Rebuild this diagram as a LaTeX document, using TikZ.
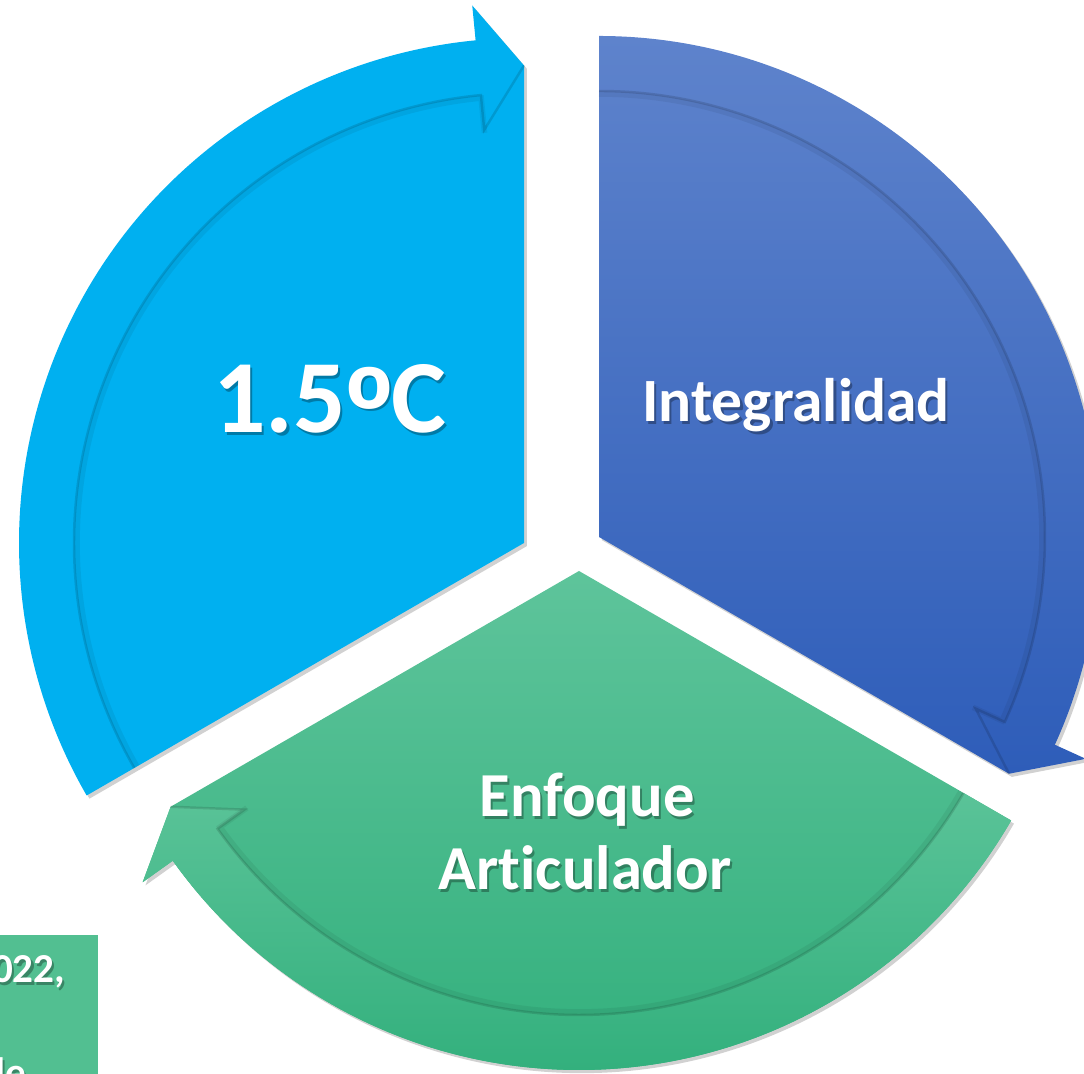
\documentclass[tikz,border=0pt]{standalone}
\usepackage{fontspec}
\setmainfont[Ligatures=NoCommon]{Carlito}
\newfontfamily\ordfont{Liberation Sans}
\usetikzlibrary{positioning}
\definecolor{cyanseg}{HTML}{00B0F0}
\definecolor{indigotop}{HTML}{5E83CC}
\definecolor{indigobot}{HTML}{2E5DB9}
\definecolor{greentop}{HTML}{5EC49B}
\definecolor{greenbot}{HTML}{33B07D}
\definecolor{greenband}{HTML}{5AC398}
\definecolor{notegreen}{HTML}{52BF91}

\begin{document}
\begin{tikzpicture}[x=0.01cm, y=0.01cm,
       seg/.style = {preaction={fill=black, fill opacity=0.18,
                     transform canvas={xshift=0.8pt, yshift=-0.9pt}}},
       rim/.style = {draw=black, draw opacity=0.13, line width=0.7pt},
      rimb/.style = {draw=black, draw opacity=0.06, line width=1.6pt},
       lbl/.style = {text=white, font=\bfseries, inner sep=0pt, anchor=base},
     lblsh/.style = {text=black, text opacity=0.3, font=\bfseries, inner sep=0pt,
                     anchor=base, xshift=0.6pt, yshift=-0.6pt}
                        ]
\useasboundingbox (0,0) rectangle (1084,-1074);

% centres of the three segments
\coordinate (c15)  at (524,-543);
\coordinate (cint) at (599,-537);
\coordinate (cenf) at (579,-571);

% 1.5 C segment
\fill[cyanseg, seg, shift={(c15)}] (0,0) -- (210:505)
     arc[start angle=210, end angle=95.5, radius=505] -- (95.5:540) -- (90:477.5) -- cycle;
\draw[rimb, shift={(c15)}] (210:447)
     arc[start angle=210, end angle=95.5, radius=447] -- (95.5:412);
\draw[rim, shift={(c15)}] (210:450)
     arc[start angle=210, end angle=95.5, radius=450] -- (95.5:415) -- (90:477.5);

% Integralidad segment
\shade[seg, top color=indigotop, bottom color=indigobot, shift={(cint)}] (0,0) -- (90:501)
     arc[start angle=90, end angle=-24.5, radius=501] -- (-24.5:535) -- (-30:473.5) -- cycle;
\draw[rimb, shift={(cint)}] (90:443)
     arc[start angle=90, end angle=-24.5, radius=443] -- (-24.5:411);
\draw[rim, shift={(cint)}] (90:446)
     arc[start angle=90, end angle=-24.5, radius=446] -- (-24.5:414) -- (-30:473.5);

% Enfoque Articulador segment
\shade[seg, top color=greentop, bottom color=greenbot, shift={(cenf)}] (0,0) -- (330:499)
     arc[start angle=330, end angle=215.5, radius=499] -- (215.5:536) -- (210:471.5) -- cycle;
\shade[top color=greenband, bottom color=greenbot, shift={(cenf)}] (330:499)
     arc[start angle=330, end angle=215.5, radius=499] -- (215.5:536) -- (210:471.5)
     -- (215.5:411) -- (215.5:444) arc[start angle=215.5, end angle=330, radius=444] -- cycle;
\draw[rimb, shift={(cenf)}] (330:441)
     arc[start angle=330, end angle=215.5, radius=441] -- (215.5:408);
\draw[rim, shift={(cenf)}] (330:444)
     arc[start angle=330, end angle=215.5, radius=444] -- (215.5:411) -- (210:471.5);

% labels
\node (t15sh)  [lblsh, font=\bfseries\fontsize{29.5}{34}\selectfont] at (330,-433)
     {1.5{\ordfont\raisebox{-0.2em}{\scalebox{1.2}{º}}}C};
\node (t15)    [lbl,   font=\bfseries\fontsize{29.5}{34}\selectfont] at (330,-433)
     {1.5{\ordfont\raisebox{-0.2em}{\scalebox{1.2}{º}}}C};
\node (tintsh) [lblsh, font=\bfseries\fontsize{17.5}{21}\selectfont] at (796,-422) {Integralidad};
\node (tint)   [lbl,   font=\bfseries\fontsize{17.5}{21}\selectfont] at (796,-422) {Integralidad};
\node (tenfsh) [lblsh, font=\bfseries\fontsize{17.8}{21}\selectfont] at (587,-817) {Enfoque};
\node (tenf)   [lbl,   font=\bfseries\fontsize{17.8}{21}\selectfont] at (587,-817) {Enfoque};
\node (tartsh) [lblsh, font=\bfseries\fontsize{17.8}{21}\selectfont] at (585,-890) {Articulador};
\node (tart)   [lbl,   font=\bfseries\fontsize{17.8}{21}\selectfont] at (585,-890) {Articulador};

% note box, cut by the page edge
\fill[notegreen] (0,-935) rectangle (98,-1074);
\begin{scope}
\clip (0,-935) rectangle (98,-1074);
\node (noteash) [lblsh, anchor=base east, font=\bfseries\fontsize{11.7}{14}\selectfont] at (66,-983) {022,};
\node (notea)   [lbl,   anchor=base east, font=\bfseries\fontsize{11.7}{14}\selectfont] at (66,-983) {022,};
\node (notebsh) [lblsh, anchor=base east, font=\bfseries\fontsize{11.7}{14}\selectfont] at (27,-1087) {de};
\node (noteb)   [lbl,   anchor=base east, font=\bfseries\fontsize{11.7}{14}\selectfont] at (27,-1087) {de};
\end{scope}
\end{tikzpicture}
\end{document}
